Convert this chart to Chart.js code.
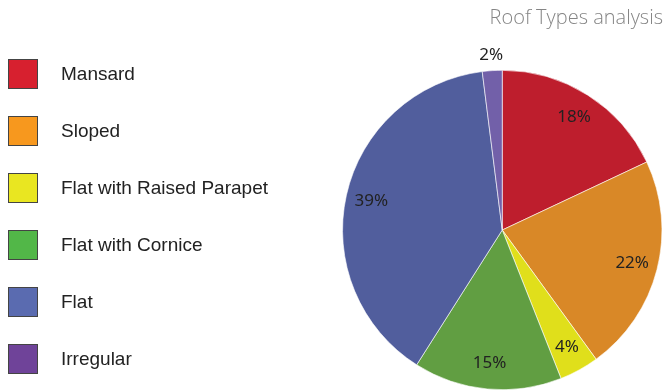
<!DOCTYPE html>
<html>
<head>
<meta charset="utf-8">
<script src="https://cdn.jsdelivr.net/npm/chart.js@4"></script>
<style>
  html, body { margin: 0; padding: 0; background: #fff; }
  #wrap { position: relative; width: 670px; height: 390px; }
</style>
</head>
<body>
<div id="wrap"><canvas id="roofChart" width="670" height="390"></canvas></div>
<script>
// Roof types share (%)
const labels = ['Mansard', 'Sloped', 'Flat with Raised Parapet', 'Flat with Cornice', 'Flat', 'Irregular'];
const shares = [18, 22, 4, 15, 39, 2];
// the slices and the legend swatches use slightly different shades in the original
const sliceColors = ['#BE1E2D', '#D98827', '#E0DF1B', '#619E42', '#515E9D', '#7260A9'];
const legendColors = ['#D7202F', '#F7981E', '#E9E621', '#52B748', '#5A6BB0', '#6F4399'];

// percent labels placed on the slice mid-angle
const sliceLabels = {
  id: 'sliceLabels',
  afterDatasetsDraw(chart) {
    const ctx = chart.ctx;
    const meta = chart.getDatasetMeta(0);
    ctx.save();
    ctx.font = '17px "Noto Sans", sans-serif';
    ctx.fillStyle = '#222';
    ctx.textAlign = 'center';
    ctx.textBaseline = 'middle';
    meta.data.forEach((arc, i) => {
      const p = arc.getProps(['x', 'y', 'startAngle', 'endAngle', 'outerRadius']);
      const mid = (p.startAngle + p.endAngle) / 2;
      const dist = shares[i] < 3 ? p.outerRadius + 15 : p.outerRadius * 0.84;
      ctx.fillText(shares[i] + '%', p.x + Math.cos(mid) * dist, p.y + Math.sin(mid) * dist);
    });
    ctx.restore();
  }
};

// legend on the left, drawn by hand so swatches can differ from slices
const sideLegend = {
  id: 'sideLegend',
  afterDraw(chart) {
    const ctx = chart.ctx;
    ctx.save();
    ctx.font = '19px "Liberation Sans", Arial, sans-serif';
    ctx.textBaseline = 'middle';
    labels.forEach((lbl, i) => {
      const cy = 74 + i * 57;
      ctx.fillStyle = legendColors[i];
      ctx.fillRect(8.5, cy - 14.5, 29, 29);
      ctx.strokeStyle = '#444';
      ctx.lineWidth = 1;
      ctx.strokeRect(8.5, cy - 14.5, 29, 29);
      ctx.fillStyle = '#222';
      ctx.fillText(lbl, 61, cy + 1);
    });
    ctx.restore();
  }
};

new Chart(document.getElementById('roofChart'), {
  type: 'pie',
  data: {
    labels: labels,
    datasets: [{
      data: shares,
      backgroundColor: sliceColors,
      borderColor: '#ffffff',
      borderWidth: 0.6,
    }],
  },
  options: {
    responsive: false,
    animation: false,
    layout: { padding: { left: 341.5, right: 7, top: 0, bottom: 0 } },
    plugins: {
      legend: { display: false },
      tooltip: { enabled: false },
      title: {
        display: true,
        text: 'Roof Types analysis',
        align: 'end',
        color: '#858585',
        font: { family: '"Open Sans", "Noto Sans", sans-serif', size: 20, weight: 300 },
        padding: { top: 6, bottom: 40 },
      },
    },
  },
  plugins: [sliceLabels, sideLegend],
});
</script>
</body>
</html>
